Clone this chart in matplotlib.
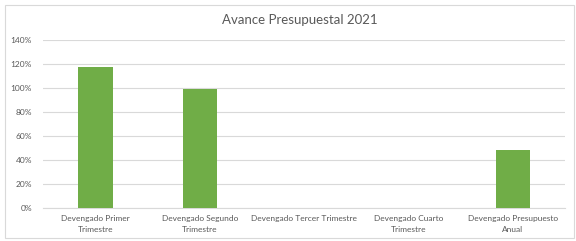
import matplotlib.pyplot as plt
from matplotlib.patches import Rectangle
from matplotlib.ticker import FuncFormatter

# Data
categories = ['Devengado Primer\nTrimestre', 'Devengado Segundo\nTrimestre',
              'Devengado Tercer Trimestre', 'Devengado Cuarto\nTrimestre',
              'Devengado Presupuesto\nAnual']
values = [117.5, 99.0, 0.0, 0.0, 48.5]
yticks = [0, 20, 40, 60, 80, 100, 120, 140]

plt.rcParams['font.family'] = ['Lato', 'DejaVu Sans']

fig = plt.figure(figsize=(5.76, 2.41), dpi=100)
fig.patches.append(Rectangle((5 / 576, 3 / 241), 569 / 576, 233 / 241,
                             transform=fig.transFigure, fill=False,
                             edgecolor='#d9d9d9', linewidth=0.8))

ax = fig.add_axes([0.075, 0.137, 0.906, 0.697])
x = range(len(categories))
ax.bar(x, values, width=0.33, color='#70ad47', zorder=3)

ax.set_ylim(0, 140)
ax.set_xlim(-0.5, len(categories) - 0.5)
ax.set_yticks(yticks)
ax.yaxis.set_major_formatter(FuncFormatter(lambda v, p: f'{int(v)}%'))
ax.set_xticks(list(x))
ax.set_xticklabels(categories, multialignment='center', linespacing=1.6)
ax.grid(axis='y', color='#d9d9d9', linewidth=0.8, zorder=0)
for s in ['top', 'right', 'left']:
    ax.spines[s].set_visible(False)
ax.spines['bottom'].set_color('#d9d9d9')
ax.tick_params(axis='both', length=0, labelsize=6, colors='#595959')
ax.tick_params(axis='y', pad=8)
ax.tick_params(axis='x', pad=5)

fig.text(0.52, 0.915, 'Avance Presupuestal 2021', ha='center', va='center',
         fontsize=9.5, color='#595959')

fig.savefig('out.png', dpi=100)
